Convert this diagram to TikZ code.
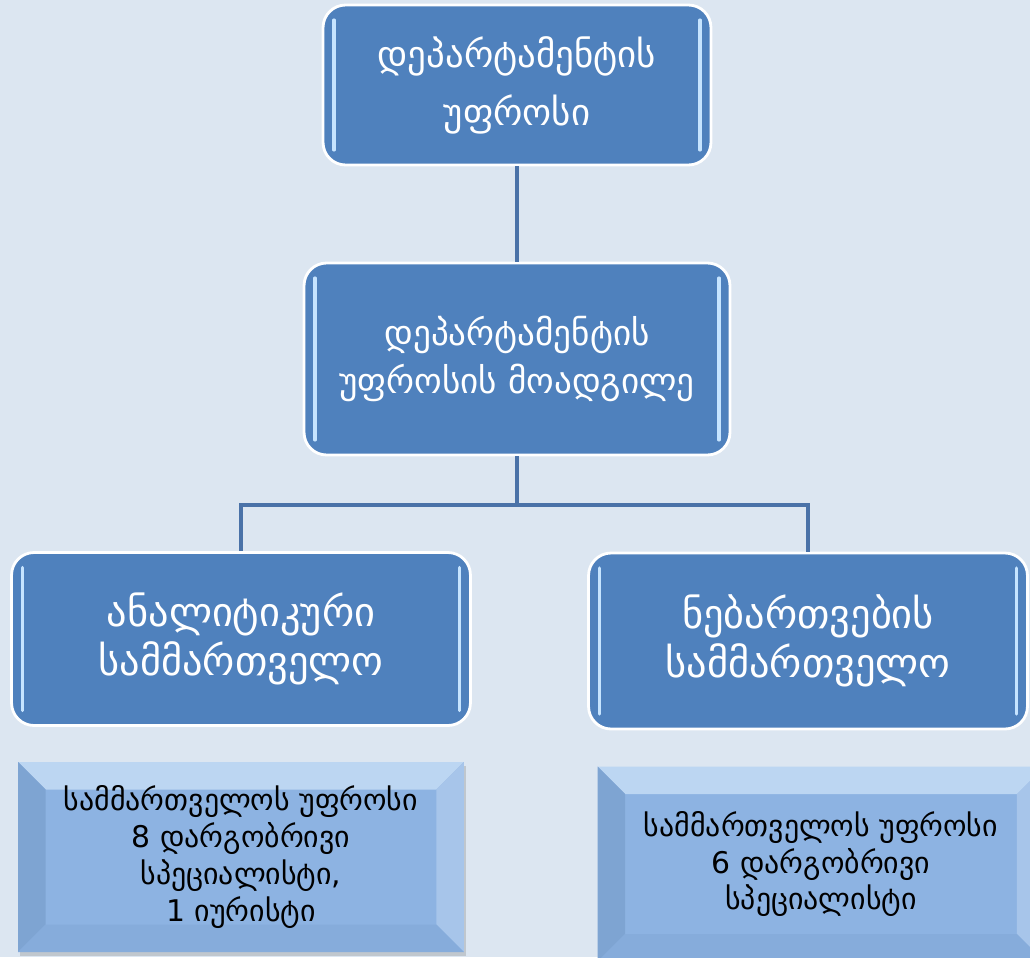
\documentclass[tikz,border=0pt]{standalone}
\usepackage{fontspec}
\usetikzlibrary{shadows}
\newfontfamily\geofont{DejaVu Sans}

\definecolor{bgpage}{HTML}{DCE6F1}
\definecolor{boxblue}{HTML}{4F81BD}
\definecolor{hilite}{HTML}{C6E4FF}
\definecolor{linkblue}{HTML}{4A72A8}
\definecolor{bevelmid}{HTML}{8DB3E2}
\definecolor{beveltop}{HTML}{BCD6F2}
\definecolor{bevelleft}{HTML}{7EA4D2}
\definecolor{bevelright}{HTML}{A7C5EA}
\definecolor{bevelbot}{HTML}{86ACDB}

\begin{document}
\begin{tikzpicture}[x=0.02cm,y=-0.02cm,
  bluebox/.style={rectangle, rounded corners=0.45cm, fill=boxblue, draw=white,
    line width=1.6pt, text=white, align=center, inner sep=0pt,
    path picture={
      \draw[hilite, line width=1.8pt, line cap=round]
        ([shift={(0.22cm,-0.3cm)}]path picture bounding box.north west) --
        ([shift={(0.22cm,0.3cm)}]path picture bounding box.south west);
      \draw[hilite, line width=1.8pt, line cap=round]
        ([shift={(-0.22cm,-0.3cm)}]path picture bounding box.north east) --
        ([shift={(-0.22cm,0.3cm)}]path picture bounding box.south east);
    }},
  bevelbox/.style={rectangle, fill=bevelmid, text=black, align=center, inner sep=0pt,
    drop shadow={opacity=0.3, shadow xshift=0.04cm, shadow yshift=-0.08cm},
    font=\geofont\fontsize{17}{21}\selectfont,
    path picture={
      \fill[beveltop] (path picture bounding box.north west) -- (path picture bounding box.north east)
        -- ([shift={(-0.55cm,-0.55cm)}]path picture bounding box.north east)
        -- ([shift={(0.55cm,-0.55cm)}]path picture bounding box.north west) -- cycle;
      \fill[bevelleft] (path picture bounding box.north west) -- (path picture bounding box.south west)
        -- ([shift={(0.55cm,0.55cm)}]path picture bounding box.south west)
        -- ([shift={(0.55cm,-0.55cm)}]path picture bounding box.north west) -- cycle;
      \fill[bevelright] (path picture bounding box.north east) -- (path picture bounding box.south east)
        -- ([shift={(-0.55cm,0.55cm)}]path picture bounding box.south east)
        -- ([shift={(-0.55cm,-0.55cm)}]path picture bounding box.north east) -- cycle;
      \fill[bevelbot] (path picture bounding box.south west) -- (path picture bounding box.south east)
        -- ([shift={(-0.55cm,0.55cm)}]path picture bounding box.south east)
        -- ([shift={(0.55cm,0.55cm)}]path picture bounding box.south west) -- cycle;
    }},
  link/.style={linkblue, line width=2.2pt}]

\fill[bgpage] (0,0) rectangle (1030,957);
\useasboundingbox (0,0) rectangle (1030,957);

% chain of command
\node[bluebox, minimum width=7.76cm, minimum height=3.2cm,
  font=\geofont\fontsize{21}{33}\selectfont] (head) at (517,85)
  {დეპარტამენტის\\უფროსი};
\node[bluebox, minimum width=8.52cm, minimum height=3.84cm,
  font=\geofont\fontsize{20}{27}\selectfont] (deputy) at (517,359)
  {დეპარტამენტის\\უფროსის მოადგილე};
\node[bluebox, minimum width=9.18cm, minimum height=3.46cm,
  font=\geofont\fontsize{23}{28}\selectfont] (analytic) at (241,639)
  {ანალიტიკური\\სამმართველო};
\node[bluebox, minimum width=8.78cm, minimum height=3.52cm,
  font=\geofont\fontsize{23}{28}\selectfont] (permits) at (808,641)
  {ნებართვების\\სამმართველო};

\coordinate (bus) at (517,505);
\draw[link] (head) -- (deputy);
\draw[link] (deputy) -- (bus);
\draw[link] (bus) -| (analytic);
\draw[link] (bus) -| (permits);

% staff
\node[bevelbox, minimum width=8.92cm, minimum height=3.8cm] (staffa) at (241,857)
  {სამმართველოს უფროსი\\8 დარგობრივი\\სპეციალისტი,\\1 იურისტი};
\node[bevelbox, minimum width=8.94cm, minimum height=3.9cm] (staffb) at (821,864)
  {სამმართველოს უფროსი\\6 დარგობრივი\\სპეციალისტი};

\end{tikzpicture}
\end{document}
